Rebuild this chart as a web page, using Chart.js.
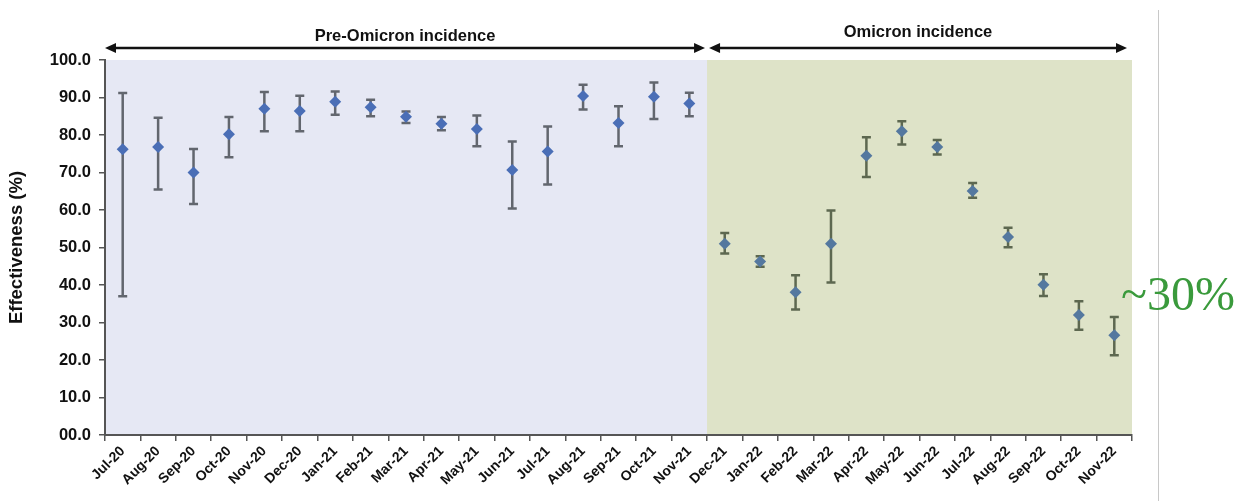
<!DOCTYPE html>
<html>
<head>
<meta charset="utf-8">
<script src="https://cdn.jsdelivr.net/npm/chart.js@4/dist/chart.umd.min.js"></script>
<style>
  body { margin: 0; background: #fff; }
  #wrap { width: 1241px; height: 501px; position: relative; }
</style>
</head>
<body>
<div id="wrap"><canvas id="chart" width="1241" height="501"></canvas></div>
<script>
// months on the x axis
const months = ['Jul-20', 'Aug-20', 'Sep-20', 'Oct-20', 'Nov-20', 'Dec-20', 'Jan-21', 'Feb-21', 'Mar-21', 'Apr-21',
  'May-21', 'Jun-21', 'Jul-21', 'Aug-21', 'Sep-21', 'Oct-21', 'Nov-21', 'Dec-21', 'Jan-22', 'Feb-22',
  'Mar-22', 'Apr-22', 'May-22', 'Jun-22', 'Jul-22', 'Aug-22', 'Sep-22', 'Oct-22', 'Nov-22'];

// point estimate + confidence interval (%)
const effectiveness = [76.2, 76.8, 70.0, 80.2, 87.0, 86.4, 88.9, 87.4, 84.9, 83.0, 81.6, 70.7, 75.6, 90.4, 83.2, 90.2, 88.4,
  51.0, 46.3, 38.1, 51.0, 74.5, 81.0, 76.8, 65.1, 52.8, 40.1, 32.0, 26.6];
const ciLow = [37.0, 65.5, 61.6, 74.1, 81.0, 81.0, 85.4, 85.0, 83.2, 81.3, 77.0, 60.4, 66.8, 86.8, 77.0, 84.3, 85.0,
  48.4, 44.9, 33.5, 40.7, 68.8, 77.5, 74.8, 63.3, 50.1, 37.1, 28.1, 21.3];
const ciHigh = [91.2, 84.6, 76.3, 84.8, 91.5, 90.5, 91.6, 89.4, 86.3, 84.8, 85.2, 78.3, 82.3, 93.4, 87.7, 94.0, 91.3,
  53.9, 47.7, 42.6, 59.9, 79.4, 83.7, 78.7, 67.2, 55.3, 42.9, 35.7, 31.5];

// the two periods (first / last month index)
const periodLabels = ['Pre-Omicron incidence', 'Omicron incidence'];
const periodStart = [0, 17];
const periodEnd = [16, 28];

const note = '~30%';

const periodFill = ['#e6e8f4', '#dee3c8'];
const barColor = ['#62666e', '#5d6850'];
const dotColor = ['#4a6eb6', '#54789f'];
const FONT = '"Liberation Sans", Arial, sans-serif';

function periodOf(i) {
  return i >= periodStart[1] ? 1 : 0;
}

function edgeLeft(x, i) {
  return i === 0 ? x.left : (x.getPixelForValue(i - 1) + x.getPixelForValue(i)) / 2;
}
function edgeRight(x, i) {
  return i === months.length - 1 ? x.right : (x.getPixelForValue(i) + x.getPixelForValue(i + 1)) / 2;
}

function arrowHead(ctx, x, y, dir) {
  ctx.beginPath();
  ctx.moveTo(x, y);
  ctx.lineTo(x - dir * 11, y - 5);
  ctx.lineTo(x - dir * 11, y + 5);
  ctx.closePath();
  ctx.fill();
}

const extras = {
  id: 'extras',
  beforeDraw(chart) {
    const { ctx, chartArea: a, scales: { x } } = chart;
    ctx.save();
    for (let p = 0; p < periodLabels.length; p++) {
      const l = edgeLeft(x, periodStart[p]);
      const r = edgeRight(x, periodEnd[p]);
      ctx.fillStyle = periodFill[p];
      ctx.fillRect(l, a.top, r - l, a.bottom - a.top);
    }
    ctx.restore();
  },
  beforeDatasetsDraw(chart) {
    const { ctx, scales: { x, y } } = chart;
    ctx.save();
    ctx.lineWidth = 2.5;
    months.forEach((m, i) => {
      const px = x.getPixelForValue(i);
      const top = y.getPixelForValue(ciHigh[i]);
      const bot = y.getPixelForValue(ciLow[i]);
      ctx.strokeStyle = barColor[periodOf(i)];
      ctx.beginPath();
      ctx.moveTo(px, top); ctx.lineTo(px, bot);
      ctx.moveTo(px - 4.5, top); ctx.lineTo(px + 4.5, top);
      ctx.moveTo(px - 4.5, bot); ctx.lineTo(px + 4.5, bot);
      ctx.stroke();
    });
    ctx.restore();
  },
  afterDraw(chart) {
    const { ctx, scales: { x } } = chart;
    ctx.save();
    // period arrows + labels
    const ay = 48;
    ctx.strokeStyle = '#111';
    ctx.fillStyle = '#111';
    ctx.lineWidth = 2.5;
    ctx.font = 'bold 16.5px ' + FONT;
    ctx.textAlign = 'center';
    ctx.textBaseline = 'middle';
    for (let p = 0; p < periodLabels.length; p++) {
      const l = edgeLeft(x, periodStart[p]) + (p === 0 ? 0 : 2);
      const r = edgeRight(x, periodEnd[p]) - (p === 0 ? 2 : 5);
      ctx.beginPath();
      ctx.moveTo(l + 6, ay); ctx.lineTo(r - 6, ay);
      ctx.stroke();
      arrowHead(ctx, l, ay, -1);
      arrowHead(ctx, r, ay, 1);
      ctx.fillText(periodLabels[p], (l + r) / 2, p === 0 ? 36 : 32);
    }
    // thin separator on the right
    ctx.strokeStyle = '#c8c8c8';
    ctx.lineWidth = 1;
    ctx.beginPath();
    ctx.moveTo(1158.5, 10); ctx.lineTo(1158.5, 501);
    ctx.stroke();
    // annotation
    ctx.fillStyle = '#3a9a3c';
    ctx.font = '48px "Liberation Serif", "DejaVu Serif", serif';
    ctx.textAlign = 'left';
    ctx.textBaseline = 'alphabetic';
    ctx.fillText(note, 1121, 310);
    ctx.restore();
  }
};

new Chart(document.getElementById('chart'), {
  type: 'line',
  data: {
    labels: months,
    datasets: [{
      label: 'Effectiveness',
      data: effectiveness,
      showLine: false,
      pointStyle: 'rectRot',
      pointRadius: 6,
      pointBorderWidth: 0,
      pointBackgroundColor: ctx => dotColor[periodOf(ctx.dataIndex)],
      pointBorderColor: ctx => dotColor[periodOf(ctx.dataIndex)],
    }],
  },
  options: {
    responsive: false,
    animation: false,
    layout: { padding: { top: 60, right: 109, left: 0, bottom: 0 } },
    plugins: { legend: { display: false }, tooltip: { enabled: false } },
    scales: {
      x: {
        offset: true,
        afterFit: s => { s.height = 66; },
        grid: { offset: true, drawOnChartArea: false, tickLength: 6, color: '#555', lineWidth: 1.5 },
        border: { color: '#555', width: 2 },
        ticks: {
          autoSkip: false, maxRotation: 45, minRotation: 45, padding: 2,
          color: '#111', font: { family: FONT, size: 14, weight: 'bold' },
        },
      },
      y: {
        min: 0,
        max: 100,
        afterFit: s => { s.width = 105; },
        grid: { drawOnChartArea: false, tickLength: 6, color: '#555', lineWidth: 1.5 },
        border: { color: '#555', width: 2 },
        ticks: {
          stepSize: 10, padding: 8, color: '#111',
          font: { family: FONT, size: 16.5, weight: 'bold' },
          callback: v => (v === 0 ? '00.0' : v.toFixed(1)),
        },
        title: {
          display: true, text: 'Effectiveness (%)', color: '#111', padding: { top: 6, bottom: 0 },
          font: { family: FONT, size: 18.5, weight: 'bold' },
        },
      },
    },
  },
  plugins: [extras],
});
</script>
</body>
</html>
